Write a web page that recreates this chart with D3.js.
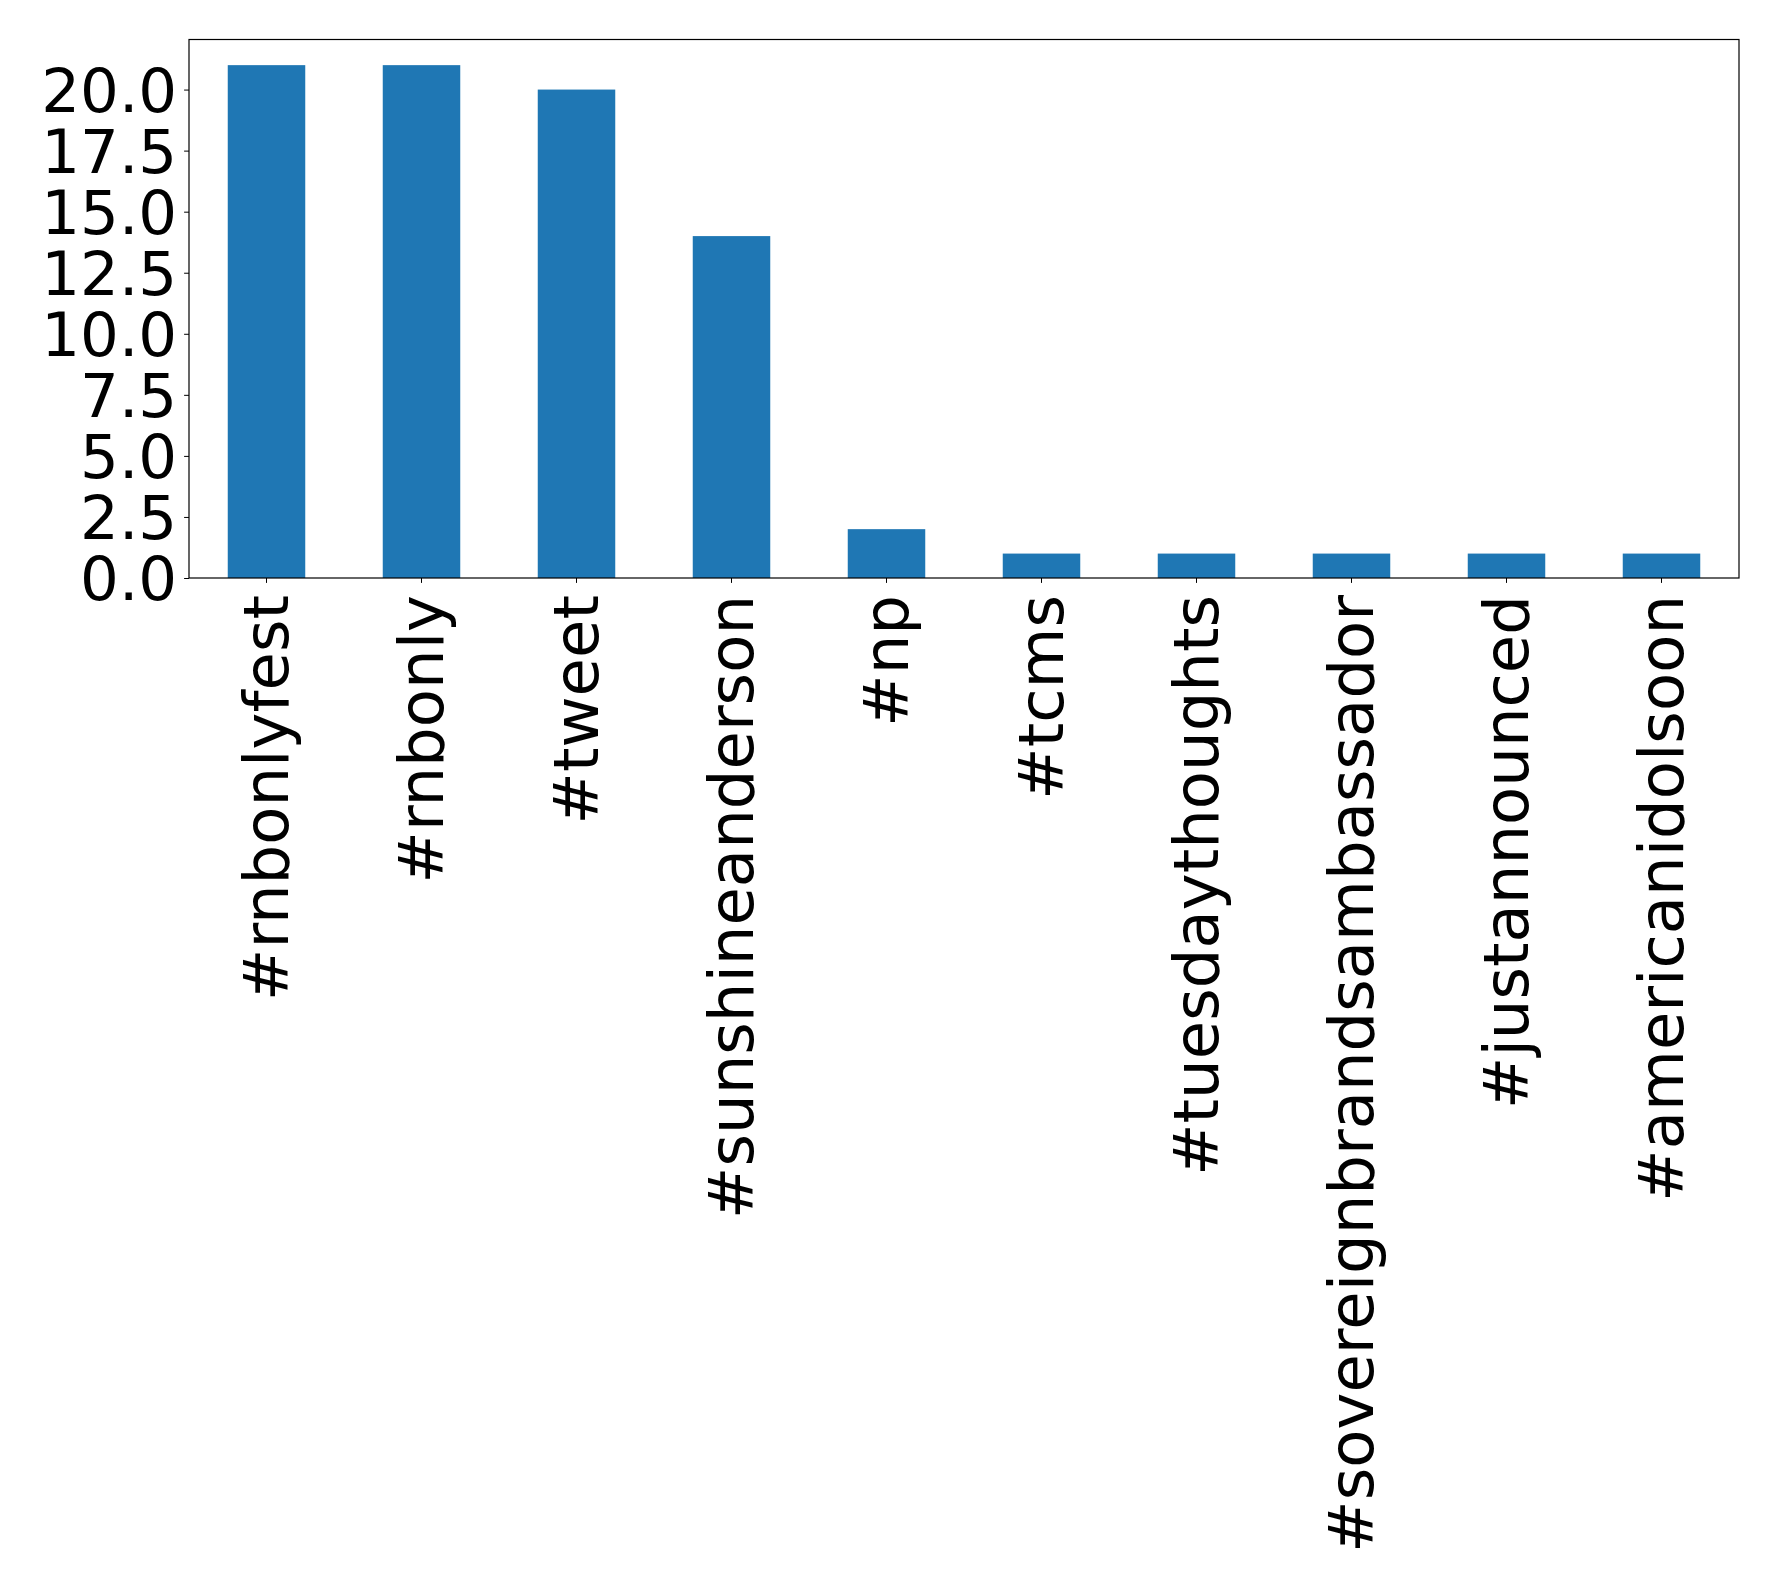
<!DOCTYPE html>
<html>
<head>
<meta charset="utf-8">
<script src="https://d3js.org/d3.v7.min.js"></script>
<style>
  body { margin: 0; background: #fff; }
  text { font-family: "DejaVu Sans", sans-serif; }
</style>
</head>
<body>
<svg id="chart" width="1778" height="1585"></svg>
<script>
var hashtags = ["#rnbonlyfest", "#rnbonly", "#tweet", "#sunshineanderson", "#np",
                "#tcms", "#tuesdaythoughts", "#sovereignbrandsambassador", "#justannounced", "#americanidolsoon"];
var counts = [21, 21, 20, 14, 2, 1, 1, 1, 1, 1];
var yTicks = [0, 2.5, 5, 7.5, 10, 12.5, 15, 17.5, 20];

var plotLeft = 189, plotRight = 1739, plotTop = 39.5, plotBottom = 578;
var svg = d3.select('#chart');

var x = d3.scaleBand()
    .domain(hashtags)
    .range([plotLeft, plotRight])
    .paddingInner(0.5)
    .paddingOuter(0.25);
var y = d3.scaleLinear()
    .domain([0, d3.max(counts) * 1.05])
    .range([plotBottom, plotTop]);

svg.selectAll('rect.bar').data(counts).enter()
  .append('rect')
  .attr('class', 'bar')
  .attr('x', function (d, i) { return x(hashtags[i]); })
  .attr('y', function (d) { return y(d); })
  .attr('width', x.bandwidth())
  .attr('height', function (d) { return y(0) - y(d); })
  .attr('fill', '#1f77b4');

// y axis
var yAxis = svg.append('g')
  .attr('transform', 'translate(' + plotLeft + ',0)')
  .call(d3.axisLeft(y).tickValues(yTicks).tickFormat(d3.format('.1f')).tickSize(4.9).tickPadding(7));
yAxis.selectAll('text').style('font-size', '61px').attr('dy', '0.36em').attr('fill', '#000');
yAxis.selectAll('line').attr('stroke', '#000');
yAxis.select('.domain').remove();

// x axis
var xAxis = svg.append('g')
  .attr('transform', 'translate(0,' + plotBottom + ')')
  .call(d3.axisBottom(x).tickSize(4.9).tickPadding(0));
xAxis.select('.domain').remove();
xAxis.selectAll('line').attr('stroke', '#000');
xAxis.selectAll('text')
  .style('font-size', '62.5px')
  .attr('fill', '#000')
  .attr('y', 0)
  .attr('dy', null)
  .attr('text-anchor', 'end')
  .attr('dominant-baseline', 'central')
  .attr('transform', 'translate(0,17) rotate(-90)');

// frame
svg.append('rect')
  .attr('x', plotLeft).attr('y', plotTop)
  .attr('width', plotRight - plotLeft).attr('height', plotBottom - plotTop)
  .attr('fill', 'none').attr('stroke', '#000').attr('stroke-width', 1.2);
</script>
</body>
</html>
